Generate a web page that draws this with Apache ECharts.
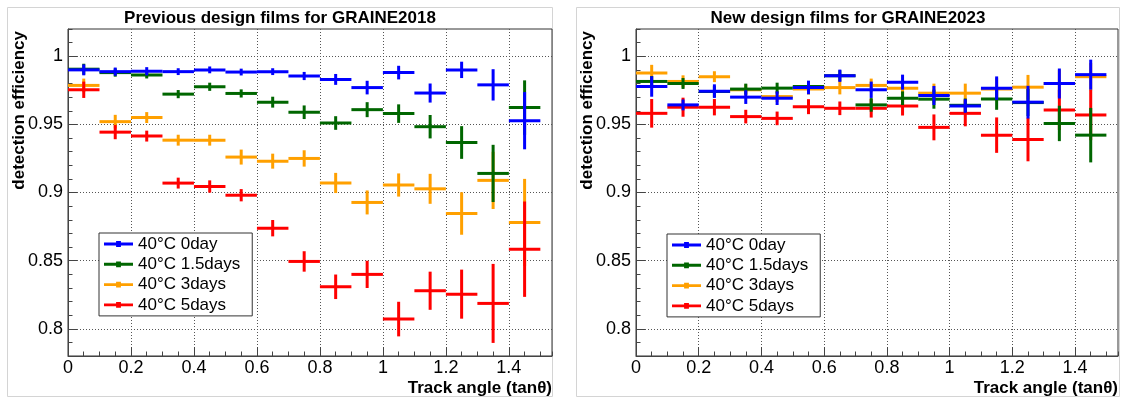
<!DOCTYPE html>
<html>
<head>
<meta charset="utf-8">
<script src="https://cdn.jsdelivr.net/npm/echarts@6/dist/echarts.min.js"></script>
<style>
  html, body { margin: 0; padding: 0; background: #fff; }
  #chart { width: 1123px; height: 399px; }
</style>
</head>
<body>
<div id="chart"></div>
<script>
// bins of tan(theta), width 0.1
const binCenters = [0.05, 0.15, 0.25, 0.35, 0.45, 0.55, 0.65, 0.75, 0.85, 0.95, 1.05, 1.15, 1.25, 1.35, 1.45]
const binHalfWidth = 0.05
const seriesNames = ['40°C 0day', '40°C 1.5days', '40°C 3days', '40°C 5days']
const seriesColors = ['#0000ff', '#006600', '#ffa000', '#ff0000']
const drawOrder = [2, 3, 1, 0] // 3days at the bottom, 0day on top
const xTicks = [0, 0.2, 0.4, 0.6, 0.8, 1, 1.2, 1.4]
const yTicks = [0.8, 0.85, 0.9, 0.95, 1]

// Previous design films (GRAINE2018)
const prev0day = [0.990, 0.9887, 0.989, 0.9887, 0.990, 0.9884, 0.9887, 0.9855, 0.983, 0.977, 0.988, 0.973, 0.990, 0.979, 0.9527]
const prev0dayErr = [0.004, 0.003, 0.003, 0.0025, 0.0025, 0.0025, 0.0025, 0.003, 0.004, 0.005, 0.005, 0.007, 0.006, 0.0115, 0.021]
const prev1p5days = [0.9905, 0.988, 0.9862, 0.9722, 0.9776, 0.9727, 0.9663, 0.9589, 0.951, 0.9608, 0.9579, 0.9483, 0.9367, 0.914, 0.9623]
const prev1p5daysErr = [0.004, 0.003, 0.0025, 0.003, 0.003, 0.003, 0.004, 0.005, 0.005, 0.0055, 0.0068, 0.0086, 0.012, 0.021, 0.02]
const prev3days = [0.9786, 0.952, 0.955, 0.9384, 0.9384, 0.926, 0.923, 0.925, 0.907, 0.8927, 0.9055, 0.9027, 0.8846, 0.9089, 0.878]
const prev3daysErr = [0.005, 0.005, 0.004, 0.004, 0.004, 0.0055, 0.0055, 0.006, 0.0074, 0.0088, 0.0085, 0.011, 0.0156, 0.021, 0.032]
const prev5days = [0.9754, 0.9443, 0.9414, 0.9069, 0.9044, 0.898, 0.8738, 0.8494, 0.8308, 0.8399, 0.8071, 0.8279, 0.8254, 0.8186, 0.8584]
const prev5daysErr = [0.006, 0.0052, 0.004, 0.004, 0.0045, 0.0045, 0.006, 0.0075, 0.009, 0.01, 0.0127, 0.014, 0.018, 0.029, 0.035]

// New design films (GRAINE2023)
const new0day = [0.9778, 0.9643, 0.9744, 0.970, 0.9692, 0.9771, 0.9857, 0.9754, 0.981, 0.9712, 0.9635, 0.9766, 0.9663, 0.980, 0.9865]
const new0dayErr = [0.0075, 0.004, 0.005, 0.005, 0.005, 0.005, 0.0045, 0.006, 0.0055, 0.007, 0.005, 0.0086, 0.012, 0.011, 0.011]
const new1p5days = [0.9815, 0.980, 0.9741, 0.9759, 0.9766, 0.9778, 0.9857, 0.9643, 0.9692, 0.9685, 0.964, 0.9687, 0.966, 0.9507, 0.9421]
const new1p5daysErr = [0.004, 0.004, 0.004, 0.004, 0.004, 0.004, 0.004, 0.005, 0.005, 0.007, 0.005, 0.008, 0.01, 0.013, 0.02]
const new3days = [0.9877, 0.9815, 0.985, 0.9754, 0.9704, 0.9759, 0.977, 0.9786, 0.9766, 0.9729, 0.9729, 0.976, 0.9773, 0.980, 0.985]
const new3daysErr = [0.006, 0.0045, 0.004, 0.004, 0.004, 0.004, 0.005, 0.005, 0.005, 0.007, 0.007, 0.008, 0.009, 0.01, 0.01]
const new5days = [0.9581, 0.9626, 0.9626, 0.9557, 0.9544, 0.963, 0.9618, 0.9618, 0.9635, 0.9478, 0.9581, 0.9421, 0.9389, 0.9606, 0.9569]
const new5daysErr = [0.0105, 0.007, 0.006, 0.005, 0.005, 0.0055, 0.005, 0.0068, 0.007, 0.0095, 0.0095, 0.013, 0.016, 0.0148, 0.0185]

const prevSets = [[prev0day, prev0dayErr], [prev1p5days, prev1p5daysErr], [prev3days, prev3daysErr], [prev5days, prev5daysErr]]
const newSets = [[new0day, new0dayErr], [new1p5days, new1p5daysErr], [new3days, new3daysErr], [new5days, new5daysErr]]

const FONT = '"Liberation Sans", Arial, Helvetica, sans-serif'
const X_MAX = 1.537
const Y_MIN = 0.78
const Y_MAX = 1.02

// horizontal bar = bin width, vertical bar = error
function renderCross(params, api) {
  const x = api.value(0)
  const y = api.value(1)
  const ex = api.value(2)
  const ey = api.value(3)
  const l = api.coord([x - ex, y])
  const r = api.coord([x + ex, y])
  const t = api.coord([x, y + ey])
  const b = api.coord([x, y - ey])
  const style = { stroke: api.visual('color'), lineWidth: 3 }
  return {
    type: 'group',
    children: [
      { type: 'line', shape: { x1: l[0], y1: l[1], x2: r[0], y2: r[1] }, style },
      { type: 'line', shape: { x1: t[0], y1: t[1], x2: b[0], y2: b[1] }, style }
    ]
  }
}

function makeSeries(sets, axisIndex) {
  return drawOrder.map(i => ({
    name: seriesNames[i],
    type: 'custom',
    xAxisIndex: axisIndex,
    yAxisIndex: axisIndex,
    clip: true,
    itemStyle: { color: seriesColors[i] },
    dimensions: ['x', 'y', 'ex', 'ey'],
    encode: { x: 0, y: 1 },
    renderItem: renderCross,
    data: binCenters.map((c, k) => [c, sets[i][0][k], binHalfWidth, sets[i][1][k]])
  }))
}

function mainX(gridIndex) {
  return {
    type: 'value', gridIndex: gridIndex, position: 'bottom',
    min: 0, max: X_MAX, interval: 0.05,
    axisLine: { show: true, lineStyle: { color: '#444', width: 1 } },
    axisTick: { show: true, inside: true, length: 9, customValues: xTicks, lineStyle: { color: '#444' } },
    axisLabel: {
      customValues: xTicks, margin: 3, color: '#000', fontSize: 18, fontFamily: FONT,
      formatter: v => String(Math.round(v * 10) / 10)
    },
    splitLine: { show: true, lineStyle: { color: '#555', type: [1, 2], width: 1 } }
  }
}
function minorX(gridIndex) {
  return {
    type: 'value', gridIndex: gridIndex, position: 'bottom',
    min: 0, max: X_MAX, interval: 0.05,
    axisLine: { show: false },
    axisTick: { show: true, inside: true, length: 4.5, lineStyle: { color: '#444' } },
    axisLabel: { show: false },
    splitLine: { show: false }
  }
}
function mainY(gridIndex) {
  return {
    type: 'value', gridIndex: gridIndex, position: 'left',
    min: Y_MIN, max: Y_MAX, interval: 0.01,
    axisLine: { show: true, lineStyle: { color: '#444', width: 1 } },
    axisTick: { show: true, inside: true, length: 9, customValues: yTicks, lineStyle: { color: '#444' } },
    axisLabel: {
      customValues: yTicks, margin: 5, color: '#000', fontSize: 18, fontFamily: FONT,
      formatter: v => String(Math.round(v * 100) / 100)
    },
    splitLine: { show: true, lineStyle: { color: '#555', type: [1, 2], width: 1 } }
  }
}
function minorY(gridIndex) {
  return {
    type: 'value', gridIndex: gridIndex, position: 'left',
    min: Y_MIN, max: Y_MAX, interval: 0.01,
    axisLine: { show: false },
    axisTick: { show: true, inside: true, length: 4.5, lineStyle: { color: '#444' } },
    axisLabel: { show: false },
    splitLine: { show: false }
  }
}

function makeLegend(left, top) {
  return {
    left: left, top: top, orient: 'vertical',
    data: seriesNames,
    icon: 'path://M0,1.5H30V4.5H0Z M12.5,0H17.5V6H12.5Z',
    itemWidth: 29, itemHeight: 6, itemGap: 0.3,
    padding: [1, 12, 1, 5],
    backgroundColor: '#fff',
    borderColor: '#333', borderWidth: 1, borderRadius: 0,
    textStyle: { fontSize: 17, lineHeight: 20, color: '#000', fontFamily: FONT },
    selectedMode: false
  }
}

function text(x, y, str, opts) {
  return Object.assign({
    type: 'text', x: x, y: y, z: 100,
    style: {
      text: str, font: 'bold 17px ' + FONT, fill: '#000',
      textAlign: opts.align, textVerticalAlign: 'middle'
    }
  }, opts.rotation ? { rotation: opts.rotation } : {})
}

const chart = echarts.init(document.getElementById('chart'), null, { renderer: 'canvas' })
chart.setOption({
  animation: false,
  backgroundColor: '#fff',
  grid: [
    { left: 68, top: 29, width: 484, height: 327, show: true, borderColor: '#333', borderWidth: 1, backgroundColor: 'transparent' },
    { left: 636, top: 29, width: 482, height: 327, show: true, borderColor: '#333', borderWidth: 1, backgroundColor: 'transparent' }
  ],
  xAxis: [mainX(0), minorX(0), mainX(1), minorX(1)],
  yAxis: [mainY(0), minorY(0), mainY(1), minorY(1)],
  legend: [makeLegend(99, 233), makeLegend(667, 234)],
  graphic: [
    { type: 'rect', shape: { x: 7.5, y: 7.5, width: 545, height: 389 }, style: { fill: 'none', stroke: '#d4d4d4', lineWidth: 1 }, z: -10 },
    { type: 'rect', shape: { x: 576.5, y: 7.5, width: 543, height: 389 }, style: { fill: 'none', stroke: '#d4d4d4', lineWidth: 1 }, z: -10 },
    text(280, 18, 'Previous design films for GRAINE2018', { align: 'center' }),
    text(848, 18, 'New design films for GRAINE2023', { align: 'center' }),
    text(552, 388, 'Track angle (tanθ)', { align: 'right' }),
    text(1118, 388, 'Track angle (tanθ)', { align: 'right' }),
    text(19, 31, 'detection efficiency', { align: 'right', rotation: Math.PI / 2 }),
    text(587, 31, 'detection efficiency', { align: 'right', rotation: Math.PI / 2 })
  ],
  series: [...makeSeries(prevSets, 0), ...makeSeries(newSets, 2)]
})
</script>
</body>
</html>
